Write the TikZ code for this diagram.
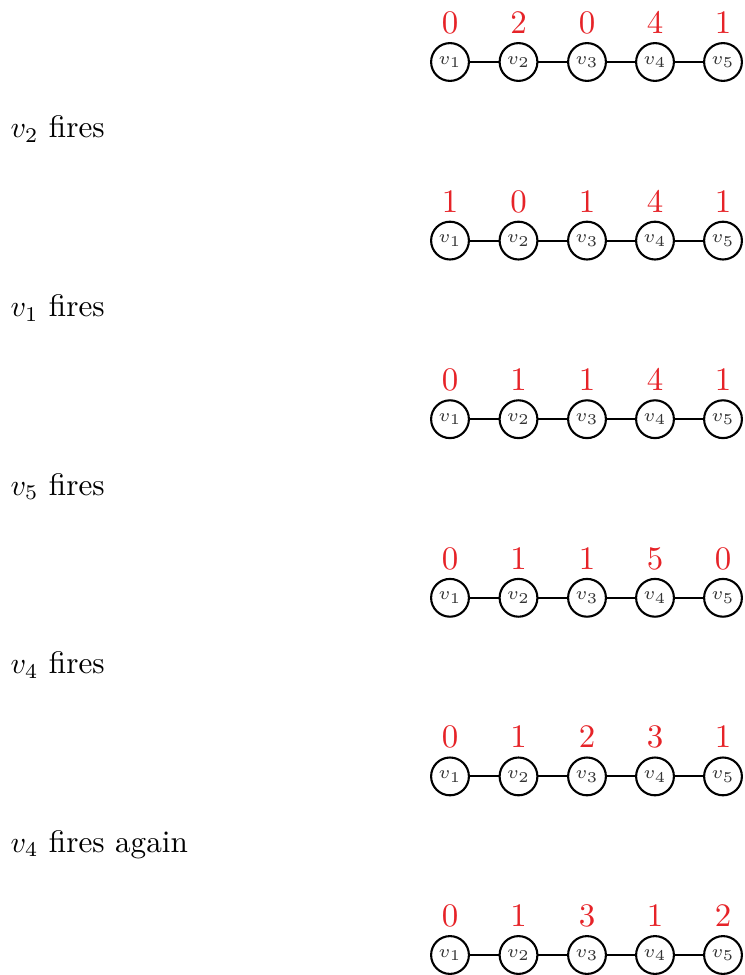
\documentclass[tikz,border=0pt]{standalone}
\definecolor{numred}{RGB}{230,35,40}
\begin{document}
\begin{tikzpicture}[x=0.33333pt,y=-0.33333pt,
  vert/.style={circle,draw,line width=0.7pt,minimum size=12.6pt,inner sep=0pt,font=\fontsize{6.5}{8}\selectfont,text=black!80},
  chip/.style={text=numred,font=\fontsize{10.8}{12}\selectfont},
  edge/.style={line width=0.7pt},
  lbl/.style={anchor=base west,inner sep=0pt,font=\fontsize{10.4}{12}\selectfont}]
\useasboundingbox (0,0) rectangle (744,975);
\def\xs{{450,518.5,587,655,723}}
\foreach \r/\vals in {0/{0,2,0,4,1},1/{1,0,1,4,1},2/{0,1,1,4,1},3/{0,1,1,5,0},4/{0,1,2,3,1},5/{0,1,3,1,2}}{
  \pgfmathsetmacro\yc{62+178.6*\r}
  \foreach \i in {1,...,5}{
    \pgfmathsetmacro\xc{\xs[\i-1]}
    \pgfmathsetmacro\vv{{\vals}[\i-1]}
    \node[vert] (n\r\i) at (\xc,\yc) {$v_{\i}$};
    \node[chip] (c\r\i) at (\xc,\yc-39) {\pgfmathprintnumber{\vv}};
  }
  \draw[edge] (n\r1) -- (n\r2) (n\r2) -- (n\r3) (n\r3) -- (n\r4) (n\r4) -- (n\r5);
}
\node[lbl] (l1) at (10,138) {$v_2$ fires};
\node[lbl] (l2) at (10,316.6) {$v_1$ fires};
\node[lbl] (l3) at (10,495.2) {$v_5$ fires};
\node[lbl] (l4) at (10,673.8) {$v_4$ fires};
\node[lbl] (l5) at (10,852.4) {$v_4$ fires again};
\end{tikzpicture}
\end{document}
